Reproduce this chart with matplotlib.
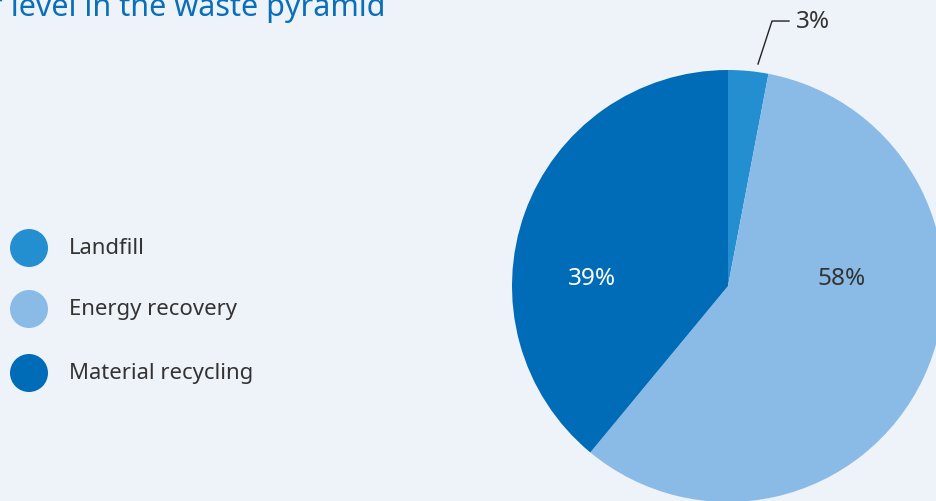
import numpy as np
import matplotlib
matplotlib.use("Agg")
import matplotlib.pyplot as plt
from matplotlib.patches import Circle

# Data
categories = ["Landfill", "Energy recovery", "Material recycling"]
shares = [3, 58, 39]
pct_labels = ["3%", "58%", "39%"]
title_text = "r level in the waste pyramid"

colors = ["#238fd1", "#8abbe6", "#006bb6"]
bg = "#eef3fa"
text_col = "#333333"
title_col = "#0a6fb8"

W, H = 937, 502
fig = plt.figure(figsize=(W / 100, H / 100), dpi=100, facecolor=bg)
ax = fig.add_axes([0, 0, 1, 1])
ax.set_facecolor(bg)

font = "Noto Sans"

# Pie
cx, cy, r = 728, H - 287, 216
wedges, _ = ax.pie(shares, colors=colors, startangle=90, counterclock=False,
                   center=(cx, cy), radius=r, frame=True,
                   wedgeprops=dict(linewidth=0))
ax.set_xlim(0, W)
ax.set_ylim(0, H)
ax.set_aspect("equal")
ax.axis("off")

# Percentage labels inside the two large slices
label_pos = {1: (842, H - 279), 2: (592, H - 279)}
label_col = {1: text_col, 2: "white"}
for i, (x, y) in label_pos.items():
    ax.text(x, y, pct_labels[i], ha="center", va="center", fontsize=17.5,
            color=label_col[i], family=font)

# Small slice: leader line and outside label
w = wedges[0]
ang = np.deg2rad((w.theta1 + w.theta2) / 2 - 2.3)
x0 = cx + r * 1.037 * np.cos(ang)
y0 = cy + r * 1.037 * np.sin(ang)
x1, y1 = x0 + 14, y0 + 43
x2 = x1 + 17
ax.plot([x0, x1, x2], [y0, y1, y1], color="#222222", lw=1.0)
ax.text(x2 + 7, y1, pct_labels[0], ha="left", va="center", fontsize=17.5,
        color=text_col, family=font)

# Legend
leg_y = [H - 249, H - 310, H - 374]
for cat, col, y in zip(categories, colors, leg_y):
    ax.add_patch(Circle((29, y), 19, color=col, lw=0))
    ax.text(69, y, cat, ha="left", va="center", fontsize=15.9,
            color=text_col, family=font)

# Title
ax.text(386, H - 16, title_text, ha="right", va="baseline", fontsize=22,
        color=title_col, family=font)

fig.savefig("out.png", dpi=100, facecolor=bg)
